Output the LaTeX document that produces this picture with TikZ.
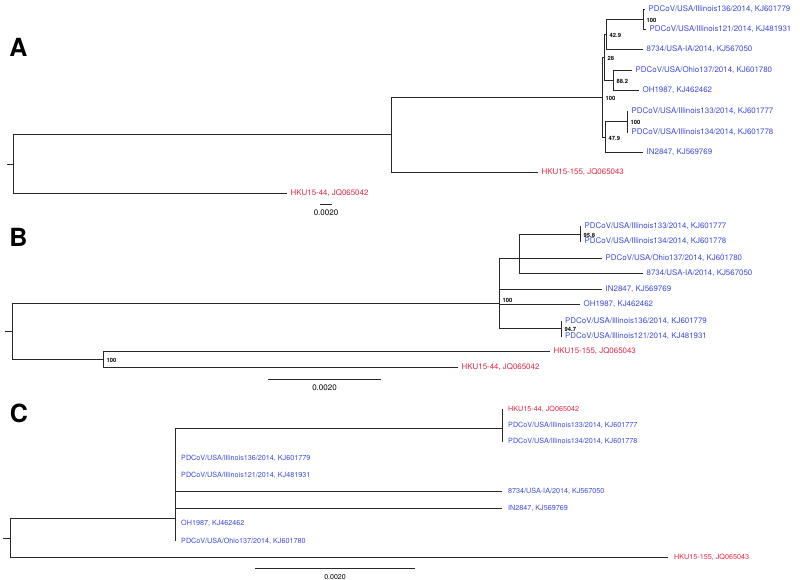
\documentclass[tikz,border=0pt]{standalone}
\usepackage{fontspec}
\setmainfont{TeX Gyre Heros}
\definecolor{leafblue}{RGB}{62,72,222}
\definecolor{leafred}{RGB}{228,40,70}
\definecolor{brc}{RGB}{40,40,40}
\tikzset{
  br/.style={draw=brc,line width=0.9pt},
  lb/.style={anchor=west,inner sep=0pt,xshift=3.5pt,text=leafblue,font=\fontsize{7.9}{8}\selectfont},
  lr/.style={lb,text=leafred},
  lbc/.style={lb,xshift=2.5pt,font=\fontsize{7.2}{8}\selectfont},
  lrc/.style={lbc,text=leafred},
  nl/.style={anchor=west,inner sep=0pt,xshift=3.5pt,yshift=-1pt,font=\fontsize{5.8}{6}\selectfont\bfseries},
  sc/.style={inner sep=0pt,font=\fontsize{8}{8}\selectfont},
  panel/.style={inner sep=0pt,font=\fontsize{25}{25}\selectfont\bfseries}
}
\begin{document}
\begin{tikzpicture}[x=1pt,y=-1pt]
\useasboundingbox (0,0) rectangle (800,580);
% ===================== Panel A =====================
\node[panel] (LA) at (18.5,47) {A};
\coordinate (A0) at (7,164);
\coordinate (A1) at (13,164);
\coordinate (A2) at (391,134.5);
\coordinate (A3) at (602,97);
\coordinate (A4) at (604,57);
\coordinate (A5) at (606,34);
\coordinate (A5a) at (643,19);
\coordinate (A6) at (613,80);
\coordinate (A7) at (605,137);
\coordinate (A8) at (627,121.5);
\coordinate (a1) at (645,9);
\coordinate (a2) at (646,29);
\coordinate (a3) at (643,49);
\coordinate (a4) at (632,70);
\coordinate (a5) at (639,90);
\coordinate (a6) at (628,111);
\coordinate (a7) at (628,132);
\coordinate (a8) at (643,152);
\coordinate (a9) at (538,172);
\coordinate (a10) at (287,193);
\draw[br] (A0) -- (A1);
\draw[br] (A1) |- (A2);
\draw[br] (A1) |- (a10);
\draw[br] (A2) |- (A3);
\draw[br] (A2) |- (a9);
\draw[br] (A3) |- (A4);
\draw[br] (A3) |- (A7);
\draw[br] (A4) |- (A5);
\draw[br] (A4) |- (A6);
\draw[br] (A5) |- (A5a);
\draw[br] (A5) |- (a3);
\draw[br] (A5a) |- (a1);
\draw[br] (A5a) |- (a2);
\draw[br] (A6) |- (a4);
\draw[br] (A6) |- (a5);
\draw[br] (A7) |- (A8);
\draw[br] (A7) |- (a8);
\draw[br] (A8) |- (a6);
\draw[br] (A8) |- (a7);
\node[lb] (ta1) at (a1) {PDCoV/USA/Illinois136/2014, KJ601779};
\node[lb] (ta2) at (a2) {PDCoV/USA/Illinois121/2014, KJ481931};
\node[lb] (ta3) at (a3) {8734/USA-IA/2014, KJ567050};
\node[lb] (ta4) at (a4) {PDCoV/USA/Ohio137/2014, KJ601780};
\node[lb] (ta5) at (a5) {OH1987, KJ462462};
\node[lb] (ta6) at (a6) {PDCoV/USA/Illinois133/2014, KJ601777};
\node[lb] (ta7) at (a7) {PDCoV/USA/Illinois134/2014, KJ601778};
\node[lb] (ta8) at (a8) {IN2847, KJ569769};
\node[lr] (ta9) at (a9) {HKU15-155, JQ065043};
\node[lr] (ta10) at (a10) {HKU15-44, JQ065042};
\node[nl] (na1) at (A5a) {100};
\node[nl] (na2) at (A5) {42.9};
\node[nl] (na3) at (A4) {28};
\node[nl] (na4) at (A6) {88.2};
\node[nl] (na5) at (A3) {100};
\node[nl] (na6) at (A7) {47.9};
\node[nl] (na7) at (A8) {100};
\coordinate (sA1) at (320,204);
\coordinate (sA2) at (332,204);
\draw[br] (sA1) -- (sA2);
\node[sc] (sAt) at (326,213) {0.0020};
% ===================== Panel B =====================
\node[panel] (LB) at (18.5,237) {B};
\coordinate (B0) at (5,331);
\coordinate (B1) at (12,331);
\coordinate (B2) at (499,303);
\coordinate (B3) at (519,258);
\coordinate (B4) at (580,234);
\coordinate (B8) at (561,328);
\coordinate (B9) at (103,359);
\coordinate (b1) at (581,226);
\coordinate (b2) at (581,241);
\coordinate (b3) at (602,258);
\coordinate (b4) at (643,273);
\coordinate (b5) at (602,289);
\coordinate (b6) at (580,304);
\coordinate (b7) at (561.5,321);
\coordinate (b8) at (561.5,336);
\coordinate (b9) at (550,351);
\coordinate (b10) at (458,367);
\draw[br] (B0) -- (B1);
\draw[br] (B1) |- (B2);
\draw[br] (B1) |- (B9);
\draw[br] (B2) |- (B3);
\draw[br] (B2) |- (b5);
\draw[br] (B2) |- (b6);
\draw[br] (B2) |- (B8);
\draw[br] (B3) |- (B4);
\draw[br] (B3) |- (b3);
\draw[br] (B3) |- (b4);
\draw[br] (B4) |- (b1);
\draw[br] (B4) |- (b2);
\draw[br] (B8) |- (b7);
\draw[br] (B8) |- (b8);
\draw[br] (B9) |- (b9);
\draw[br] (B9) |- (b10);
\node[lb] (tb1) at (b1) {PDCoV/USA/Illinois133/2014, KJ601777};
\node[lb] (tb2) at (b2) {PDCoV/USA/Illinois134/2014, KJ601778};
\node[lb] (tb3) at (b3) {PDCoV/USA/Ohio137/2014, KJ601780};
\node[lb] (tb4) at (b4) {8734/USA-IA/2014, KJ567050};
\node[lb] (tb5) at (b5) {IN2847, KJ569769};
\node[lb] (tb6) at (b6) {OH1987, KJ462462};
\node[lb] (tb7) at (b7) {PDCoV/USA/Illinois136/2014, KJ601779};
\node[lb] (tb8) at (b8) {PDCoV/USA/Illinois121/2014, KJ481931};
\node[lr] (tb9) at (b9) {HKU15-155, JQ065043};
\node[lr] (tb10) at (b10) {HKU15-44, JQ065042};
\node[nl] (nb1) at (B4) {95.8};
\node[nl,yshift=4pt] (nb2) at (B2) {100};
\node[nl] (nb3) at (B8) {94.7};
\node[nl] (nb4) at (B9) {100};
\coordinate (sB1) at (268,379);
\coordinate (sB2) at (381,379);
\draw[br] (sB1) -- (sB2);
\node[sc] (sBt) at (324.5,388) {0.0020};
% ===================== Panel C =====================
\node[panel] (LC) at (19,413) {C};
\coordinate (C0) at (3,538);
\coordinate (C1) at (10,538);
\coordinate (C2) at (175,518);
\coordinate (C3) at (502,428);
\coordinate (c1) at (502,409);
\coordinate (c2) at (502,425);
\coordinate (c3) at (502,441.5);
\coordinate (c4) at (175,458);
\coordinate (c5) at (175,475);
\coordinate (c6) at (502,491);
\coordinate (c7) at (502,508);
\coordinate (c8) at (175,523);
\coordinate (c9) at (175,541);
\coordinate (c10) at (668,557);
\draw[br] (C0) -- (C1);
\draw[br] (C1) |- (C2);
\draw[br] (C1) |- (c10);
\draw[br] (C2) |- (C3);
\draw[br] (C2) |- (c6);
\draw[br] (C2) |- (c7);
\draw[br] (C2) -- (c9);
\draw[br] (C3) |- (c1);
\draw[br] (C3) |- (c3);
\node[lrc] (tc1) at (c1) {HKU15-44, JQ065042};
\node[lbc] (tc2) at (c2) {PDCoV/USA/Illinois133/2014, KJ601777};
\node[lbc] (tc3) at (c3) {PDCoV/USA/Illinois134/2014, KJ601778};
\node[lbc] (tc4) at (c4) {PDCoV/USA/Illinois136/2014, KJ601779};
\node[lbc] (tc5) at (c5) {PDCoV/USA/Illinois121/2014, KJ481931};
\node[lbc] (tc6) at (c6) {8734/USA-IA/2014, KJ567050};
\node[lbc] (tc7) at (c7) {IN2847, KJ569769};
\node[lbc] (tc8) at (c8) {OH1987, KJ462462};
\node[lbc] (tc9) at (c9) {PDCoV/USA/Ohio137/2014, KJ601780};
\node[lrc] (tc10) at (c10) {HKU15-155, JQ065043};
\coordinate (sC1) at (255,568);
\coordinate (sC2) at (415,568);
\draw[br] (sC1) -- (sC2);
\node[sc,font=\fontsize{7}{7}\selectfont] (sCt) at (335,577) {0.0020};
\end{tikzpicture}
\end{document}
